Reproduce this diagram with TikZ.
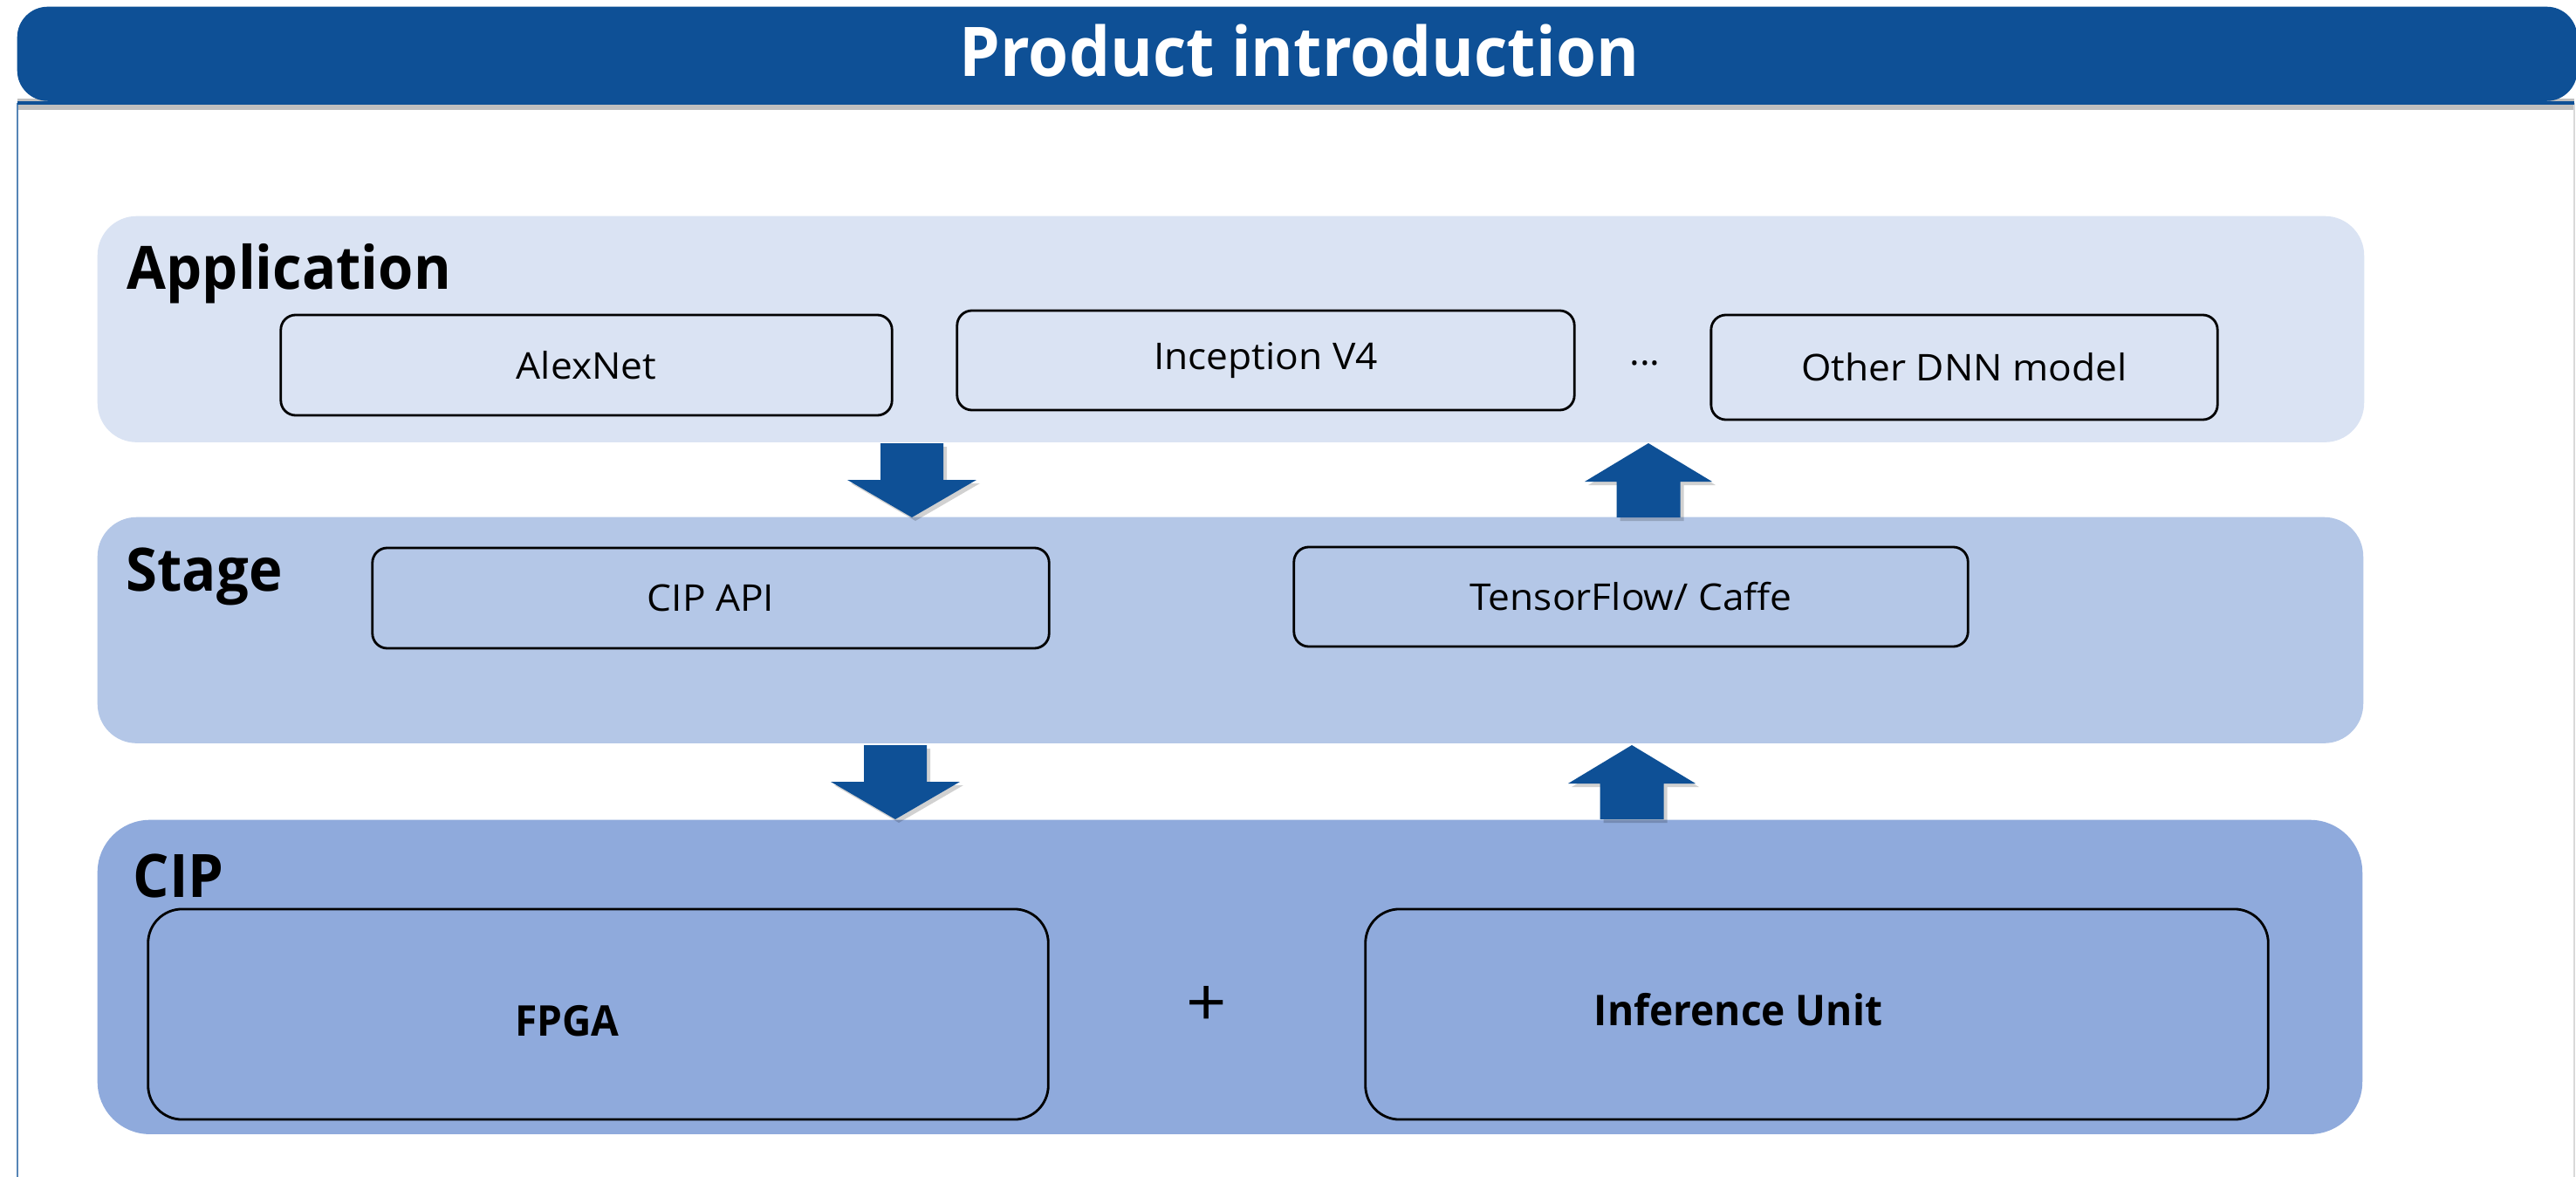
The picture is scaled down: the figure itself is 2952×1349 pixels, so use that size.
\documentclass[tikz,border=0pt]{standalone}
\usepackage{fontspec}
\setmainfont{Open Sans}[FakeStretch=1.05, BoldFeatures={FakeStretch=0.95}]
\definecolor{titleblue}{HTML}{0E5096}
\definecolor{appfill}{HTML}{DAE3F3}
\definecolor{stagefill}{HTML}{B4C7E7}
\definecolor{cipfill}{HTML}{8FAADC}
\tikzset{
  layerbox/.style={anchor=north west, inner sep=0pt, draw=none},
  itembox/.style={draw=black, line width=0.8pt, rounded corners=0.17cm, inner sep=0pt, font=\fontsize{12}{14}\selectfont},
  bigbox/.style={draw=black, line width=0.8pt, rounded corners=0.39cm, inner sep=0pt},
  layertitle/.style={anchor=base west, inner sep=0pt, font=\fontsize{19.5}{22}\selectfont\bfseries},
  bigtext/.style={anchor=center, inner sep=0pt, font=\fontsize{13.8}{16}\selectfont\bfseries},
  downblk/.pic={
    \fill[black, opacity=0.18] (-32,4) -- (40,4) -- (40,46) -- (78,46) -- (4,89) -- (-70,46) -- (-32,46) -- cycle;
    \fill[titleblue] (-36,0) -- (36,0) -- (36,42) -- (74,42) -- (0,85) -- (-74,42) -- (-36,42) -- cycle;},
  upblk/.pic={
    \fill[black, opacity=0.18] (4,4) -- (77,48) -- (40.5,48) -- (40.5,89) -- (-32.5,89) -- (-32.5,48) -- (-69,48) -- cycle;
    \fill[titleblue] (0,0) -- (73,44) -- (36.5,44) -- (36.5,85) -- (-36.5,85) -- (-36.5,44) -- (-73,44) -- cycle;},
}
\begin{document}
\begin{tikzpicture}[x=0.01cm, y=-0.01cm]
\useasboundingbox[fill=white] (0,0) rectangle (2952,1349);

% frame
\fill[black!25] (20,113) rectangle (2950,126);
\draw[titleblue!70, line width=0.5pt] (20,1349) -- (20,118);
\draw[black!15, line width=0.5pt] (2950,118) -- (2950,1349);
\draw[titleblue, line width=1.2pt] (20,118) -- (2950,118);

% title bar
\node[layerbox, fill=titleblue, rounded corners=0.35cm, minimum width=29.32cm, minimum height=1.08cm] (title) at (19,7) {};
\node[anchor=base, inner sep=0pt, text=white, font=\fontsize{22.3}{26}\selectfont\bfseries] (titletext) at (1489,88) {Product introduction};

% layers
\node[layerbox, fill=appfill, rounded corners=0.45cm, minimum width=25.96cm, minimum height=2.59cm] (app) at (111,247) {};
\node[layerbox, fill=stagefill, rounded corners=0.45cm, minimum width=25.95cm, minimum height=2.59cm] (stage) at (111,592) {};
\node[layerbox, fill=cipfill, rounded corners=0.6cm, minimum width=25.94cm, minimum height=3.60cm] (cip) at (111,939) {};

\node[layertitle] (apptitle) at (145,332) {Application};
\node[layertitle] (stagetitle) at (144,677) {Stage};
\node[layertitle] (ciptitle) at (152,1028) {CIP};

% application items
\node[itembox, minimum width=7.00cm, minimum height=1.15cm] (alex) at (672,418.5) {AlexNet};
\node[itembox, minimum width=7.07cm, minimum height=1.14cm] (incep) at (1450.5,413) {Inception V4};
\node[inner sep=0pt, font=\fontsize{12}{14}\selectfont] (dots) at (1885,416) {...};
\node[itembox, minimum width=5.80cm, minimum height=1.20cm] (other) at (2251,421) {Other DNN model};

% stage items
\node[itembox, minimum width=7.75cm, minimum height=1.15cm] (cipapi) at (814.5,685.5) {CIP API};
\node[itembox, minimum width=7.72cm, minimum height=1.14cm] (tf) at (1869,684) {TensorFlow/ Caffe};

% CIP items
\node[bigbox, minimum width=10.31cm, minimum height=2.41cm] (fpga) at (685.5,1162.5) {};
\node[bigtext] (fpgatext) at (650,1170) {FPGA};
\node[inner sep=0pt, font=\fontsize{22}{24}\selectfont] (plus) at (1383,1153) {+};
\node[bigbox, minimum width=10.34cm, minimum height=2.41cm] (infer) at (2082,1162.5) {};
\node[bigtext] (infertext) at (1992,1157) {Inference Unit};

% block arrows
\pic at (1045,508) {downblk};
\pic at (1889,508) {upblk};
\pic at (1026,854) {downblk};
\pic at (1870,854) {upblk};
\end{tikzpicture}
\end{document}
